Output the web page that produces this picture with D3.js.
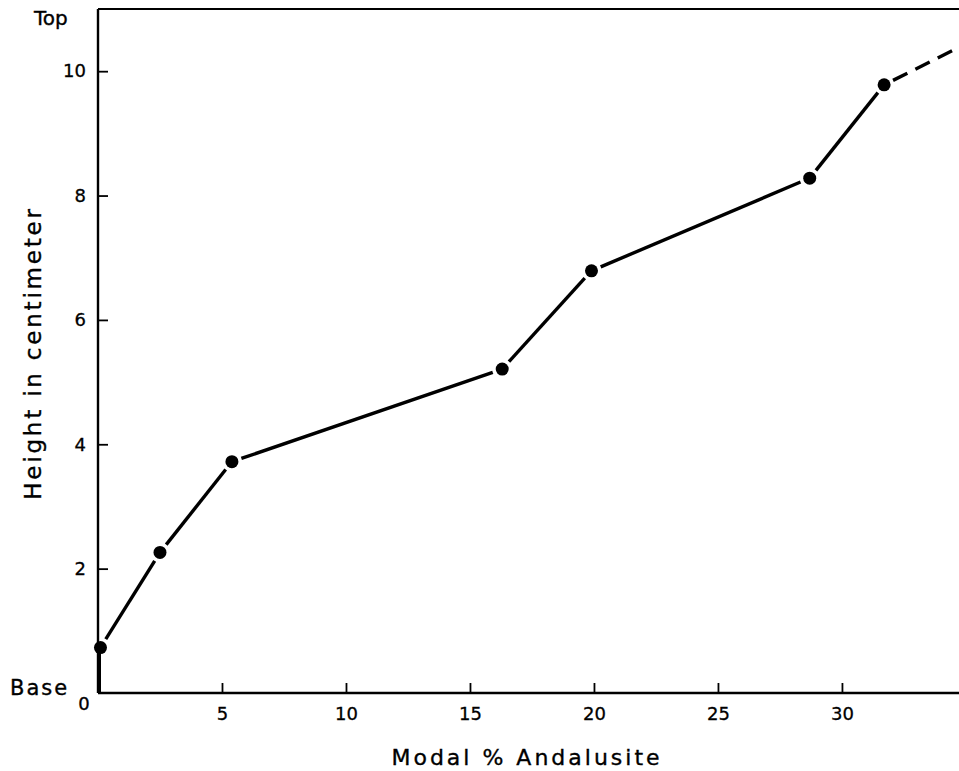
<!DOCTYPE html>
<html><head><meta charset="utf-8">
<script src="https://cdn.jsdelivr.net/npm/d3@7"></script>
<style>body{margin:0;background:#fff}svg{display:block}</style>
</head><body>
<svg id="c" width="959" height="771"></svg>
<script>
const modalPct = [0.1, 2.5, 5.4, 16.3, 19.9, 28.7, 31.7];
const heightCm = [0.73, 2.26, 3.72, 5.21, 6.79, 8.28, 9.78];
const extensionPct = [31.7, 34.8];
const extensionCm = [9.78, 10.4];
const xTicks = [5, 10, 15, 20, 25, 30];
const yTicks = [2, 4, 6, 8, 10];

const svg = d3.select("#c");
const x = d3.scaleLinear().domain([0, 34.72]).range([98, 959]);
const y = d3.scaleLinear().domain([0, 11]).range([693, 9]);
const font = "'DejaVu Sans', sans-serif";

svg.append("line").attr("x1", x(0)).attr("x2", x(34.72)).attr("y1", y(11)).attr("y2", y(11))
  .attr("stroke", "#000").attr("stroke-width", 2.2);

const xAxis = d3.axisBottom(x).tickValues(xTicks).tickSize(-10).tickPadding(14).tickFormat(d3.format("d"));
const gx = svg.append("g").attr("transform", `translate(0,${y(0)})`).call(xAxis);
const yAxis = d3.axisLeft(y).tickValues(yTicks).tickSize(-10).tickPadding(12).tickFormat(d3.format("d"));
const gy = svg.append("g").attr("transform", `translate(${x(0)},0)`).call(yAxis);
[gx, gy].forEach(g => {
  g.select(".domain").attr("stroke", "#000").attr("stroke-width", 2.4);
  g.selectAll(".tick line").attr("stroke", "#000").attr("stroke-width", 1.8);
  g.selectAll(".tick text").attr("font-family", font).attr("font-size", 18).attr("fill", "#000")
    .attr("stroke", "#000").attr("stroke-width", 0.3);
});
gx.select(".domain").attr("d", `M${x(0)},0H${x(34.72)}`);
gy.select(".domain").attr("d", `M0,${y(11)}V${y(0)}`);

svg.append("line").attr("x1", x(0) + 1).attr("x2", x(0) + 1).attr("y1", y(0)).attr("y2", y(heightCm[0]))
  .attr("stroke", "#000").attr("stroke-width", 4);

const gap = 10;
function seg(x0, y0, x1, y1, dashed, gapEnd) {
  const px0 = x(x0), py0 = y(y0), px1 = x(x1), py1 = y(y1);
  const dx = px1 - px0, dy = py1 - py0, L = Math.hypot(dx, dy);
  const ux = dx / L, uy = dy / L;
  const e = gapEnd ? gap : 0;
  svg.append("line")
    .attr("x1", px0 + ux * gap).attr("y1", py0 + uy * gap)
    .attr("x2", px1 - ux * e).attr("y2", py1 - uy * e)
    .attr("stroke", "#000").attr("stroke-width", 3.4)
    .attr("stroke-dasharray", dashed ? "16,9" : null);
}
for (let i = 0; i < modalPct.length - 1; i++) {
  seg(modalPct[i], heightCm[i], modalPct[i + 1], heightCm[i + 1], false, true);
}
seg(extensionPct[0], extensionCm[0], extensionPct[1], extensionCm[1], true, false);

svg.selectAll("circle.pt").data(modalPct).join("circle").attr("class", "pt")
  .attr("cx", (d) => x(d)).attr("cy", (d, i) => y(heightCm[i])).attr("r", 6.5).attr("fill", "#000");

function label(t, xp, yp, size, ls, anchor, tr) {
  const el = svg.append("text").attr("font-family", font).attr("font-size", size)
    .attr("letter-spacing", ls).attr("text-anchor", anchor || "start")
    .attr("fill", "#000").attr("stroke", "#000").attr("stroke-width", 0.35).text(t);
  if (tr) el.attr("transform", tr); else el.attr("x", xp).attr("y", yp);
}
label("0", 84, 710, 18, 0, "middle");
label("Base", 10, 695, 21, 2);
label("Top", 34, 25, 20, 0);
label("Modal % Andalusite", 527, 765, 22, 3, "middle");
label("Height in centimeter", 0, 0, 23, 2.8, "middle", "translate(41,353) rotate(-90)");
</script>
</body></html>
